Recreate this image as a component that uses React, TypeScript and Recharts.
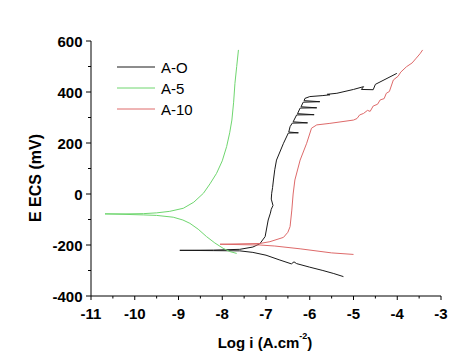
import React from 'react';
import { LineChart, Line, XAxis, YAxis } from 'recharts';

const aoLogI = [-5.23,-5.45,-5.7,-6.0,-6.3,-6.36,-6.42,-6.7,-7.0,-7.3,-7.6,-8.2,-8.97,-8.2,-7.6,-7.3,-7.14,-7.02,-6.95,-6.9,-6.88,-6.84,-6.88,-6.87,-6.85,-6.83,-6.8,-6.76,-6.6,-6.49,-6.26,-6.48,-6.45,-6.4,-6.05,-6.38,-6.3,-5.9,-6.28,-6.22,-5.84,-6.2,-6.15,-5.77,-6.13,-6.11,-6.0,-5.7,-5.54,-5.6,-5.38,-5.0,-4.77,-4.82,-4.55,-4.5,-4.01];
const aoE = [-324,-312,-300,-287,-273,-266,-274,-258,-240,-229,-223,-222,-221,-220,-217,-208,-195,-167,-102,-75,-60,-45,-20,3,25,55,95,133,199,239,240,243,264,278,279,283,310,311,315,337,338,342,360,362,366,375,382,386,389,391,395,410,421,410,409,430,473];

const a5LogI = [-7.63,-7.67,-7.71,-7.74,-7.78,-7.83,-7.9,-8.0,-8.13,-8.28,-8.43,-8.65,-8.89,-9.2,-9.5,-9.8,-10.2,-10.68,-10.2,-9.8,-9.5,-9.12,-8.9,-8.74,-8.55,-8.36,-8.17,-7.98,-7.82,-7.67];
const a5E = [565,500,434,360,290,240,186,130,81,40,3,-32,-56,-68,-74,-77,-78,-78,-80,-82,-84,-91,-102,-115,-138,-167,-192,-213,-226,-233];

const a10LogI = [-5.0,-5.5,-6.22,-6.8,-7.14,-8.05,-7.14,-6.91,-6.6,-6.5,-6.45,-6.41,-6.38,-6.34,-6.22,-6.07,-5.96,-5.84,-5.54,-5.0,-4.92,-4.86,-4.77,-4.68,-4.62,-4.55,-4.45,-4.39,-4.3,-4.25,-4.18,-4.09,-3.98,-3.92,-3.79,-3.66,-3.58,-3.48,-3.42];
const a10E = [-237,-231,-215,-204,-200,-197,-194,-187,-170,-150,-128,-63,0,55,133,199,258,271,277,290,296,310,316,328,324,345,352,369,374,395,402,447,462,478,499,514,530,550,565];

const xTicks = [-11,-10.5,-10,-9.5,-9,-8.5,-8,-7.5,-7,-6.5,-6,-5.5,-5,-4.5,-4,-3.5,-3];
const yTicks = [-400,-300,-200,-100,0,100,200,300,400,500,600];

const seriesNames = ['A-O', 'A-5', 'A-10'];
const seriesColors = ['#1a1a1a', '#6fd66f', '#de6a6a'];

const toData = (xs: number[], ys: number[]) => xs.map((x, i) => ({ x, e: ys[i] }));
const aoData = toData(aoLogI, aoE);
const a5Data = toData(a5LogI, a5E);
const a10Data = toData(a10LogI, a10E);

const FONT = '"Liberation Sans", Arial, sans-serif';

const XTick = (props: any) => {
  const { x, y, payload } = props;
  const v = payload.value;
  const major = Number.isInteger(v);
  return (
    <g>
      <line x1={x} y1={y} x2={x} y2={y + (major ? 4 : 2.5)} stroke="#000" strokeWidth={1} />
      {major && (
        <text x={x} y={y + 17} textAnchor="middle" dominantBaseline="central" fontFamily={FONT} fontWeight="bold" fontSize={15} fill="#000">
          {v}
        </text>
      )}
    </g>
  );
};

const YTick = (props: any) => {
  const { x, y, payload } = props;
  const v = payload.value;
  const major = v % 200 === 0;
  return (
    <g>
      <line x1={x - (major ? 5 : 3)} y1={y} x2={x} y2={y} stroke="#000" strokeWidth={1} />
      {major && (
        <text x={x - 8.5} y={y} textAnchor="end" dominantBaseline="central" fontFamily={FONT} fontWeight="bold" fontSize={15} fill="#000">
          {v}
        </text>
      )}
    </g>
  );
};

export default function App() {
  return (
    <div style={{ position: 'absolute', left: 0, top: 0, width: 463, height: 355, background: '#fff' }}>
      <LineChart width={463} height={355} margin={{ top: 41, right: 22, bottom: 0, left: 0 }}>
        <XAxis
          type="number"
          dataKey="x"
          domain={[-11, -3]}
          ticks={xTicks}
          interval={0}
          allowDataOverflow
          tickSize={0}
          tickMargin={0}
          tick={<XTick />}
          tickLine={false}
          axisLine={{ stroke: '#000', strokeWidth: 1 }}
          height={59}
        />
        <YAxis
          type="number"
          domain={[-400, 600]}
          ticks={yTicks}
          interval={0}
          allowDataOverflow
          tickSize={0}
          tickMargin={0}
          tick={<YTick />}
          tickLine={false}
          axisLine={{ stroke: '#000', strokeWidth: 1 }}
          width={91}
        />
        <Line data={aoData} dataKey="e" name="A-O" type="linear" stroke={seriesColors[0]} strokeWidth={1} dot={false} isAnimationActive={false} />
        <Line data={a5Data} dataKey="e" name="A-5" type="linear" stroke={seriesColors[1]} strokeWidth={1} dot={false} isAnimationActive={false} />
        <Line data={a10Data} dataKey="e" name="A-10" type="linear" stroke={seriesColors[2]} strokeWidth={1} dot={false} isAnimationActive={false} />
        <g>
          {seriesNames.map((n, i) => (
            <g key={n}>
              <line x1={117} x2={155} y1={67 + i * 21} y2={67 + i * 21} stroke={seriesColors[i]} strokeWidth={1} />
              <text x={161} y={67 + i * 21} dominantBaseline="central" fontFamily={FONT} fontSize={15} fill="#000">
                {n}
              </text>
            </g>
          ))}
        </g>
        <text x={35} y={178} transform="rotate(-90 35 178)" textAnchor="middle" dominantBaseline="central" fontFamily={FONT} fontWeight="bold" fontSize={16} fill="#000">
          E ECS (mV)
        </text>
        <text x={265} y={342} textAnchor="middle" dominantBaseline="central" fontFamily={FONT} fontWeight="bold" fontSize={15} fill="#000">
          Log i (A.cm<tspan dy={-6} fontSize={9}>-2</tspan><tspan dy={6}>)</tspan>
        </text>
      </LineChart>
    </div>
  );
}
